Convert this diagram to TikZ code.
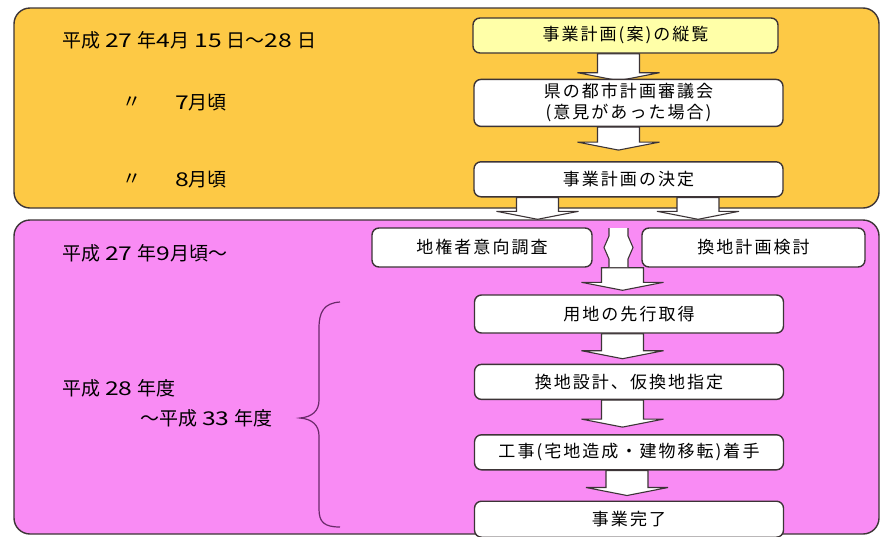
\documentclass[tikz,border=0pt]{standalone}
\usepackage{fontspec}
\setmainfont{Noto Sans CJK JP}
\newfontfamily\boxfont[LetterSpace=12]{Noto Sans CJK JP}
\newfontfamily\digitfont[FakeStretch=1.3]{Noto Sans CJK JP}
\usetikzlibrary{positioning, calc}

\definecolor{phaseorange}{HTML}{FDC945}
\definecolor{phasepink}{HTML}{F98BF4}
\definecolor{boxyellow}{HTML}{FFFFA8}
\definecolor{edgegray}{HTML}{3C3436}
\definecolor{bracepurple}{HTML}{6A2A6A}

\pgfdeclarelayer{panels}
\pgfdeclarelayer{arrows}
\pgfsetlayers{panels,arrows,main}

\newcommand{\nm}[1]{\hspace{5pt}{\digitfont #1}\hspace{5pt}}

\tikzset{
	panel/.style={draw=edgegray, line width=1.4pt, rounded corners=16pt, minimum width=865pt},
	stepbox/.style={draw=edgegray, line width=1.4pt, rounded corners=7pt, fill=white,
		minimum width=309pt, minimum height=35pt, inner sep=0pt, align=center,
		font=\boxfont\fontsize{17}{21}\selectfont},
	datelabel/.style={anchor=west, inner sep=0pt, font=\fontsize{19}{22}\selectfont},
	blockarrow/.style={draw=edgegray, line width=1.1pt, fill=white, line join=miter}
}

% down block arrow: start point, tip
\newcommand{\downblock}[2]{%
	\draw[blockarrow] let \p1=(#1), \p2=(#2) in
		(\x1-21pt,\y1) -- (\x1-21pt,\y2+8pt) -- (\x1-41pt,\y2+8pt) -- (\x1,\y2)
		-- (\x1+41pt,\y2+8pt) -- (\x1+21pt,\y2+8pt) -- (\x1+21pt,\y1) -- cycle;}

\begin{document}
\begin{tikzpicture}[x=1pt, y=-1pt]
	\useasboundingbox (0,0) rectangle (881,536);

	\begin{pgfonlayer}{panels}
		\node[panel, fill=phaseorange, minimum height=200pt] (phase1) at (446.5,108) {};
		\node[panel, fill=phasepink, minimum height=314pt] (phase2) at (446.5,377) {};
	\end{pgfonlayer}

	\node[stepbox, fill=boxyellow, minimum width=305pt] (plan) at (625.5,35.5) {事業計画(案)の縦覧};
	\node[stepbox, minimum height=47pt, below=25pt of plan, xshift=3pt] (council) {県の都市計画審議会\\(意見があった場合)};
	\node[stepbox, below=34pt of council] (decision) {事業計画の決定};

	\node[stepbox, minimum width=220pt, minimum height=39pt] (survey) at (482,247.5) {地権者意向調査};
	\node[stepbox, minimum width=223pt, minimum height=39pt] (replot) at (753.5,247.5) {換地計画検討};

	\node[stepbox, minimum height=38pt] (acquire) at (629,314) {用地の先行取得};
	\node[stepbox, below=30pt of acquire] (design) {換地設計、仮換地指定};
	\node[stepbox, below=34pt of design] (works) {工事(宅地造成・建物移転)着手};
	\node[stepbox, minimum height=36pt, below=30pt of works] (finish) {事業完了};

	\begin{pgfonlayer}{arrows}
		\downblock{$(plan.south)+(-7,0)$}{[yshift=-2pt]council.north}
		\downblock{$(council.south)+(-10,0)$}{[yshift=11pt]decision.north}
		\downblock{$(decision.south)+(-91,0)$}{phase2.north}
		\downblock{$(decision.south)+(69.5,0)$}{phase2.north}
		\downblock{$(acquire.north |- survey.south)+(-6.5,0)$}{[yshift=4pt]acquire.north}
		\downblock{$(acquire.south)+(-6.5,0)$}{[yshift=5pt]design.north}
		\downblock{$(design.south)+(-6.5,0)$}{[yshift=7pt]works.north}
		\downblock{$(works.south)+(-2,0)$}{[yshift=5pt]finish.north}

		% two-way arrow between the surveys
		\coordinate (swapmid) at ($(survey.east)!0.5!(replot.west)+(1.5,0)$);
		\fill[white] (swapmid) ++(-9.5,-19.5) -- ++(0,8) -- ++(-5,11.5) -- ++(5,11.5) -- ++(0,8)
			-- ++(19,0) -- ++(0,-8) -- ++(5,-11.5) -- ++(-5,-11.5) -- ++(0,-8) -- cycle;
		\draw[blockarrow, fill=none] (swapmid) ++(-9.5,-19.5) -- ++(0,8) -- ++(-5,11.5) -- ++(5,11.5) -- ++(0,8);
		\draw[blockarrow, fill=none] (swapmid) ++(9.5,-19.5) -- ++(0,8) -- ++(5,11.5) -- ++(-5,11.5) -- ++(0,8);
	\end{pgfonlayer}

	\node[datelabel] (start) at (62,40) {平成\nm{27}年{\digitfont 4}月\nm{15}日〜{\digitfont 28}\hspace{5pt}日};
	\node[datelabel] (ditto1) at (122,103) {〃};
	\node[datelabel] (july) at (175,103) {{\digitfont 7}月頃};
	\node[datelabel] (ditto2) at (122,180) {〃};
	\node[datelabel] (august) at (175,180) {{\digitfont 8}月頃};
	\node[datelabel] (sept) at (62,253) {平成\nm{27}年{\digitfont 9}月頃〜};
	\node[datelabel] (from28) at (62,388) {平成\nm{28}年度};
	\node[datelabel] (to33) at (140,418) {〜平成\nm{33}年度};

	\draw[bracepurple, line width=1.2pt] (340,302) .. controls (324,303) and (319,312) .. (319,328)
		-- (319,400) .. controls (319,411) and (312,417) .. (300,418)
		.. controls (312,419) and (319,425) .. (319,436)
		-- (319,509) .. controls (319,522) and (324,527) .. (340,527);
\end{tikzpicture}
\end{document}
